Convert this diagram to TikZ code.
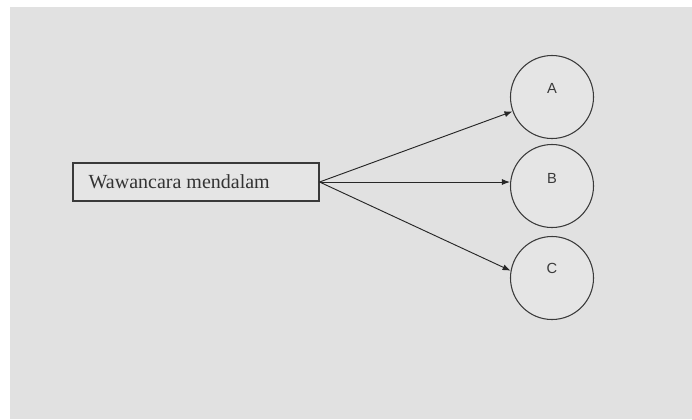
\documentclass[tikz,border=0pt]{standalone}
\usepackage{fontspec}
\setmainfont{Liberation Serif}
\newfontfamily\lblfont{Liberation Sans}
\usetikzlibrary{arrows.meta}
\definecolor{bg}{HTML}{E1E1E1}
\definecolor{boxfill}{HTML}{E5E5E5}
\definecolor{ink}{HTML}{3A3A3A}
\tikzset{
  txtbox/.style={draw=ink, line width=0.8pt, fill=boxfill, minimum width=246*0.75pt, minimum height=38*0.75pt, inner sep=0pt},
  circ/.style={draw=ink, line width=0.8pt, fill=boxfill, circle, minimum size=83*0.75pt, inner sep=0pt},
  lbl/.style={font=\lblfont\fontsize{11}{13}\selectfont, text=ink},
  conn/.style={draw=black!85, line width=0.7pt, -{Latex[length=6pt,width=4.5pt]}}
}
\begin{document}
\begin{tikzpicture}[x=0.75pt,y=-0.75pt]
\useasboundingbox (0,0) rectangle (692,419);
\fill[white] (0,0) rectangle (692,419);
\fill[bg] (10,7) rectangle (692,419);
\node[txtbox] (box) at (196,182) {};
\node[anchor=west, font=\fontsize{15}{17}\selectfont, text=black!80] (t) at (84,182) {Wawancara mendalam};
\node[circ] (A) at (552,97) {};
\node[circ] (B) at (552,186) {};
\node[circ] (C) at (552,278) {};
\node[lbl] (la) at (552,88) {A};
\node[lbl] (lb) at (552,178) {B};
\node[lbl] (lc) at (552,268) {C};
\coordinate (o) at (box.east);
\coordinate (bend) at (o -| B.west);
\draw[conn] (o) -- (A.200);
\draw[conn] (o) -- (bend);
\draw[conn] (o) -- (C.170);
\end{tikzpicture}
\end{document}
